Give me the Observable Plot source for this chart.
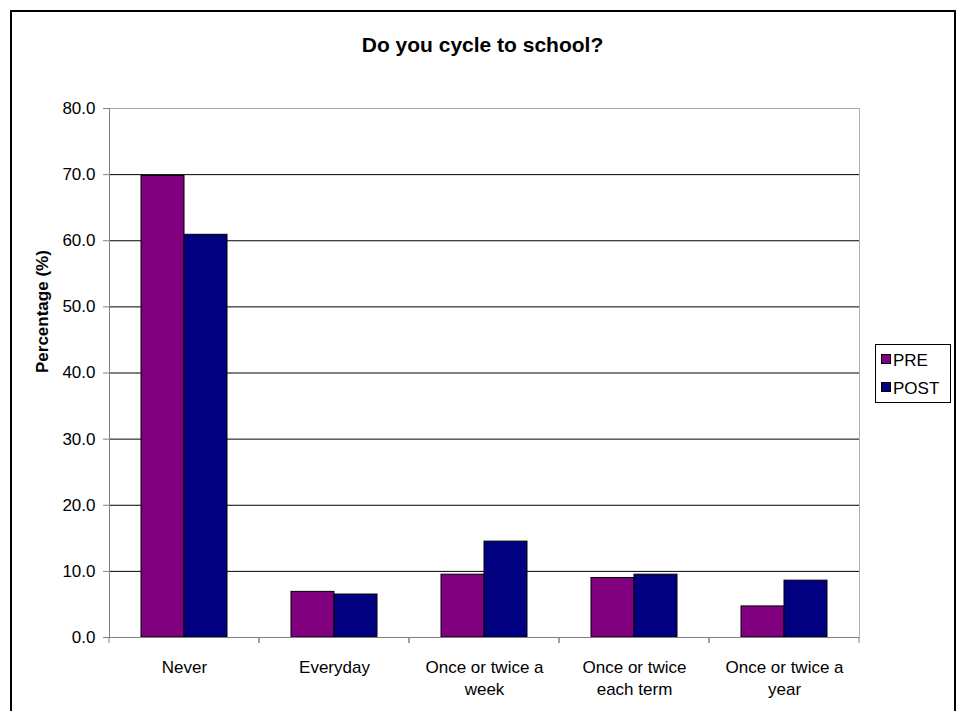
<!DOCTYPE html>
<html>
<head>
<meta charset="utf-8">
<script src="https://cdn.jsdelivr.net/npm/d3@7"></script>
<script src="https://cdn.jsdelivr.net/npm/@observablehq/plot@0.6"></script>
<style>
  body { margin: 0; background: #fff; font-family: "Liberation Sans", Arial, sans-serif; }
  #chart { position: relative; width: 960px; height: 711px; overflow: hidden; background: #fff; }
  #chart svg { position: absolute; left: 0; top: 0; }
  #border { position: absolute; left: 10px; top: 10px; width: 946px; height: 740px; border: 2px solid #000; box-sizing: border-box; pointer-events: none; }
  #title { position: absolute; left: 0; top: 34px; width: 965px; text-align: center; font-weight: bold; font-size: 21px; line-height: 21px; color: #000; }
  #legend { position: absolute; left: 875px; top: 344px; width: 76px; height: 59px; border: 1px solid #000; box-sizing: border-box; background: #fff; padding: 7px 0 0 5px; }
  .row { display: flex; align-items: flex-start; height: 28px; font-size: 17px; line-height: 17px; color: #000; }
  .swatch { width: 10px; height: 10px; border: 1px solid #000; box-sizing: border-box; margin: 2px 2px 0 0; }
</style>
</head>
<body>
<div id="chart">
  <div id="title"></div>
  <div id="legend"></div>
  <div id="border"></div>
</div>
<script>
// Survey answers, percentage of pupils
const chartTitle = "Do you cycle to school?";
const yLabel = "Percentage (%)";
const categories = ["Never", "Everyday", "Once or twice a\nweek", "Once or twice\neach term", "Once or twice a\nyear"];
const series = ["PRE", "POST"];
const preValues = [69.8, 6.9, 9.5, 9.0, 4.7];
const postValues = [60.9, 6.5, 14.5, 9.5, 8.6];
const seriesColors = ["#800080", "#000080"];
const yTicks = [0, 10, 20, 30, 40, 50, 60, 70, 80];

const rows = categories.flatMap((category, i) => [
  {category, series: series[0], value: preValues[i]},
  {category, series: series[1], value: postValues[i]}
]);

// Short ticks at the category boundaries, drawn in every facet
const boundaryTicks = (index, scales, values, dimensions) => {
  const {marginLeft, marginRight, width} = dimensions;
  const y0 = scales.y(0);
  const g = d3.create("svg:g").attr("stroke", "#808080");
  for (const x of [marginLeft, width - marginRight]) {
    g.append("line").attr("x1", x).attr("x2", x).attr("y1", y0).attr("y2", y0 + 6);
  }
  return g.node();
};

const chart = Plot.plot({
  width: 960,
  height: 711,
  marginLeft: 108,
  marginRight: 101,
  marginTop: 108,
  marginBottom: 74,
  style: {fontFamily: "'Liberation Sans', Arial, sans-serif", fontSize: "17px", background: "transparent", color: "#000"},
  fx: {domain: categories, padding: 0, label: null},
  x: {domain: series, paddingInner: 0, paddingOuter: 0.74, axis: null},
  y: {domain: [0, 80], label: null},
  color: {domain: series, range: seriesColors},
  marks: [
    Plot.gridY(yTicks.filter(d => d > 0 && d < 80), {stroke: "#000", strokeOpacity: 1}),
    Plot.ruleY([80], {stroke: "#a6a6a6"}),
    Plot.frame({anchor: "right", facetAnchor: "right", stroke: "#b0b0b0"}),
    Plot.barY(rows, {fx: "category", x: "series", y: "value", fill: "series", stroke: "#000", strokeWidth: 1}),
    Plot.ruleY([0], {stroke: "#808080"}),
    Plot.frame({anchor: "left", facetAnchor: "left", stroke: "#808080"}),
    boundaryTicks,
    Plot.axisY({ticks: yTicks, tickFormat: d3.format(".1f"), tickSize: 6, tickPadding: 8, stroke: "#808080", fill: "#000", fontSize: 17, label: null}),
    Plot.text([yLabel], {text: d => d, frameAnchor: "left", rotate: -90, dx: -67, fontWeight: "bold", fontSize: 17, fill: "#000", facetAnchor: "left"}),
    Plot.axisFx({anchor: "bottom", tickSize: 0, tickPadding: 20, lineHeight: 1.3, fontSize: 17, fill: "#000", label: null})
  ]
});

const root = document.getElementById("chart");
root.insertBefore(chart, root.firstChild);
document.getElementById("title").textContent = chartTitle;

const legend = document.getElementById("legend");
series.forEach((name, i) => {
  const row = document.createElement("div");
  row.className = "row";
  const sw = document.createElement("div");
  sw.className = "swatch";
  sw.style.background = seriesColors[i];
  const label = document.createElement("span");
  label.textContent = name;
  row.append(sw, label);
  legend.append(row);
});
</script>
</body>
</html>
